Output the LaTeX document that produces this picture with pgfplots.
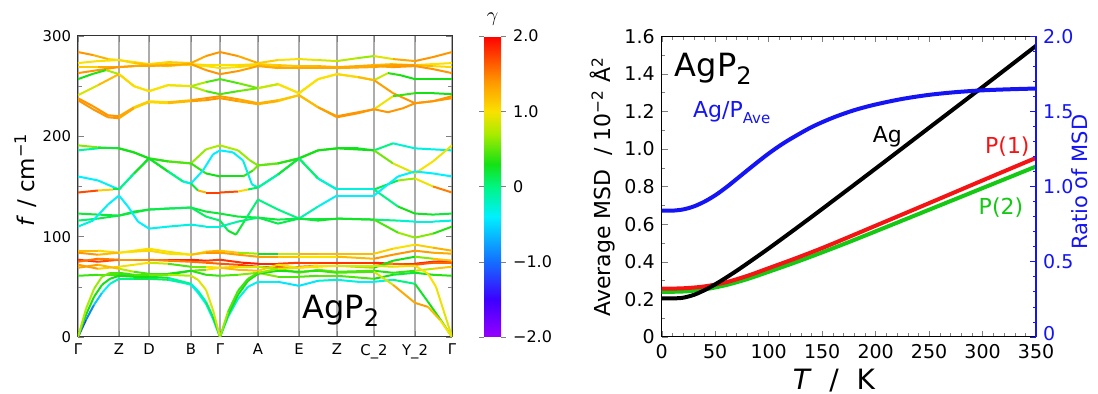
\documentclass[border=0pt]{standalone}
\usepackage{fontspec}
\setmainfont{DejaVu Sans}
\usepackage{pgfplots}
\pgfplotsset{compat=1.18}
\definecolor{cblue}{RGB}{20,20,245}
\definecolor{cred}{RGB}{245,20,20}
\definecolor{cgreen}{RGB}{20,200,20}
\pgfplotsset{
  colormap={gam}{rgb255(0cm)=(150,0,255) rgb255(5cm)=(60,0,255) rgb255(10cm)=(20,110,255) rgb255(16cm)=(0,240,255) rgb255(20cm)=(0,245,130) rgb255(23cm)=(20,225,20) rgb255(27cm)=(170,235,0) rgb255(30cm)=(250,225,0) rgb255(34cm)=(255,150,0) rgb255(40cm)=(255,0,0)},
  band/.style={mesh, point meta=explicit, line width=1pt},
}
\begin{document}
\begin{tikzpicture}
\useasboundingbox (0,0) rectangle (549pt,197pt);
% ---------------- left panel: phonon bands ----------------
\begin{axis}[
  at={(39pt,28.5pt)}, anchor=south west,
  width=187pt, height=150.5pt, scale only axis,
  xmin=0, xmax=374, ymin=0, ymax=300,
  colormap name=gam, point meta min=-2, point meta max=2,
  xtick={0,41,71,113,142,180,221,259,296,337,374},
  xticklabels={Γ,Z,D,B,Γ,A,E,Z,C\_2,Y\_2,Γ},
  xmajorgrids, major grid style={gray!65, line width=0.6pt},
  ytick={0,100,200,300}, yticklabels={0,100,200,300},
  minor ytick={50,150,250},
  tick align=inside, major tick length=3pt, minor tick length=2pt,
  axis line style={line width=0.5pt, black!80},
  ticklabel style={font=\fontsize{7.4}{8}\selectfont},
  ylabel={\textit{f} / cm\textsuperscript{−1}},
  ylabel style={at={(axis description cs:-0.14,0.523)}, anchor=center, font=\fontsize{11.5}{12}\selectfont},
  colorbar,
  colorbar style={
    at={(parent axis.north east)}, anchor=north west, xshift=7.5pt,
    width=8.5pt,
    ytick={-2,-1,0,1,2}, yticklabels={−2.0,−1.0,0,1.0,2.0},
    yticklabel style={font=\fontsize{8}{9}\selectfont},
    axis line style={draw=none},
    tick align=outside, major tick length=2.5pt,
    title={$\gamma$}, title style={font=\fontsize{10}{10}\selectfont, yshift=-4pt},
  },
]
% high group
\addplot[band] coordinates {(0,284)[1.4] (15,281)[1.4] (30,277)[1.1] (41,276)[1.0] (56,274)[1.0] (71,272)[1.1] (90,274)[1.0] (113,273)[1.2] (128,280)[1.4] (142,284)[1.4] (160,280)[1.4] (180,273)[1.2] (200,276)[1.0] (221,277)[1.0] (240,276)[0.9] (259,275)[0.8] (280,278)[0.7] (296,280)[0.6] (315,277)[1.2] (337,275)[1.4] (355,279)[1.4] (374,284)[1.4]};
\addplot[band] coordinates {(0,273)[1.0] (20,275)[1.0] (41,276)[1.0] (56,273)[1.1] (71,271)[1.2] (90,270)[1.2] (113,272)[1.1] (128,271)[1.0] (142,271)[1.0] (160,271)[1.0] (180,272)[1.1] (200,271)[1.1] (221,270)[1.2] (240,270)[1.2] (259,269)[1.3] (280,270)[1.3] (296,271)[1.3] (315,272)[1.1] (337,271)[1.0] (355,272)[1.0] (374,273)[1.0]};
\addplot[band] coordinates {(0,269)[1.0] (20,269)[1.2] (41,269)[1.4] (56,270)[1.3] (71,271)[1.2] (90,272)[1.1] (113,271)[1.0] (128,270)[1.0] (142,268)[1.0] (160,269)[1.0] (180,271)[1.1] (200,269)[1.2] (221,268)[1.3] (259,268)[1.3] (296,269)[1.3] (315,271)[1.4] (337,271)[1.3] (355,270)[1.1] (374,269)[1.0]};
\addplot[band] coordinates {(0,263)[1.4] (20,266)[1.4] (41,269)[1.4] (56,270)[1.3] (71,270)[1.3] (90,271)[1.3] (113,272)[1.3] (128,266)[1.4] (142,262)[1.4] (160,265)[1.4] (180,270)[1.3] (200,268)[1.3] (221,268)[1.3] (259,268)[1.3] (296,270)[1.3] (315,269)[1.4] (337,270)[1.4] (355,267)[1.4] (374,263)[1.4]};
\addplot[band] coordinates {(0,257)[0.3] (14,262)[0.3] (28,266)[0.4] (41,262)[1.0] (56,250)[1.0] (71,245)[1.0] (90,251)[1.0] (113,250)[0.9] (128,254)[0.5] (142,257)[0.4] (160,253)[0.5] (180,248)[0.6] (200,252)[1.0] (221,243)[1.0] (240,257)[1.0] (259,262)[1.0] (280,259)[1.1] (296,256)[1.2] (310,263)[0.4] (322,261)[0.3] (337,257)[0.3] (374,257)[0.3]};
\addplot[band] coordinates {(0,241)[0.4] (20,251)[1.3] (41,262)[1.1] (56,250)[1.0] (71,245)[1.0] (90,251)[1.0] (113,250)[0.9] (128,245)[0.5] (142,242)[0.4] (160,245)[0.5] (180,248)[0.6] (200,252)[1.0] (221,243)[1.0] (240,257)[1.0] (259,262)[1.0] (280,259)[1.1] (296,256)[1.3] (315,243)[1.4] (337,233)[1.4] (355,235)[1.4] (374,240)[1.4]};
\addplot[band] coordinates {(0,238)[1.4] (15,230)[1.4] (30,221)[1.4] (41,220)[1.4] (56,229)[1.2] (71,235)[1.0] (90,234)[1.1] (113,236)[1.3] (128,238)[1.4] (142,240)[1.4] (160,237)[1.3] (180,233)[1.3] (200,236)[1.2] (221,241)[1.1] (240,229)[1.3] (259,220)[1.4] (280,224)[1.4] (296,227)[1.4] (315,240)[0.5] (337,243)[0.3] (355,243)[0.3] (374,242)[0.3]};
\addplot[band] coordinates {(0,236)[1.4] (15,227)[1.4] (30,219)[1.4] (41,218)[1.4] (56,228)[1.2] (71,234)[1.0] (90,233)[1.1] (113,235)[1.3] (128,236)[1.4] (142,238)[1.4] (160,235)[1.3] (180,232)[1.3] (200,235)[1.2] (221,241)[1.1] (240,229)[1.3] (259,219)[1.4] (280,223)[1.4] (296,227)[1.4] (310,224)[1.4] (325,228)[1.4] (337,233)[1.4] (355,235)[1.4] (374,238)[1.4]};
% middle group
\addplot[band] coordinates {(0,191)[0.7] (20,189)[0.5] (41,188)[0.3] (56,184)[0.3] (71,178)[0.3] (90,175)[0.4] (113,173)[0.6] (128,187)[0.7] (142,191)[0.7] (160,186)[0.7] (172,176)[0.6] (180,171)[0.6] (200,173)[0.4] (221,178)[0.3] (240,186)[0.3] (259,188)[0.3] (280,188)[0.2] (296,186)[0.2] (315,193)[-0.2] (337,188)[-0.3] (355,187)[-0.3] (374,186)[-0.3]};
\addplot[band] coordinates {(0,186)[-0.3] (20,188)[0.1] (41,188)[0.3] (56,184)[0.3] (71,178)[0.3] (90,175)[0.4] (113,173)[0.5] (128,163)[0.3] (142,160)[0.3] (165,160)[0.3] (175,166)[0.5] (180,171)[0.6] (200,173)[0.4] (221,178)[0.3] (240,186)[0.3] (259,188)[0.3] (296,186)[0.3] (315,173)[0.8] (337,163)[1.0] (355,175)[1.0] (374,191)[0.9]};
\addplot[band] coordinates {(0,160)[-0.4] (20,156)[-0.4] (41,147)[-0.3] (56,163)[0.2] (71,178)[0.3] (90,165)[0.2] (105,155)[-0.2] (113,153)[-0.4] (125,166)[-0.4] (135,182)[-0.4] (142,186)[-0.4] (155,184)[-0.4] (165,176)[-0.3] (174,152)[-0.3] (180,149)[-0.3] (200,162)[0.1] (221,178)[0.3] (240,158)[-0.2] (259,147)[-0.3] (296,147)[-0.3] (320,156)[0.6] (337,158)[0.7] (355,150)[1.2] (374,144)[1.8]};
\addplot[band] coordinates {(0,144)[1.8] (20,146)[1.6] (35,147)[0.6] (41,147)[-0.3] (56,163)[0.2] (71,178)[0.3] (90,165)[0.2] (105,155)[-0.2] (113,153)[-0.4] (120,146)[0.8] (128,144)[1.7] (142,144)[1.8] (160,145)[1.6] (170,147)[0.5] (180,149)[-0.3] (200,162)[0.1] (221,178)[0.3] (240,158)[-0.2] (259,147)[-0.3] (296,147)[-0.3] (320,130)[0.3] (337,123)[0.3] (355,122)[0.2] (374,123)[0.2]};
\addplot[band] coordinates {(0,123)[0.2] (20,122)[0.2] (41,121)[0.2] (56,124)[0.2] (71,127)[0.2] (90,128)[0.2] (113,129)[0.2] (128,125)[0.2] (142,123)[0.2] (160,120)[0.2] (180,119)[0.2] (200,117)[0.2] (221,118)[0.1] (240,118)[0.2] (259,118)[0.2] (296,117)[0.2] (320,116)[-0.2] (337,115)[-0.3] (355,115)[-0.3] (374,116)[-0.3]};
\addplot[band] coordinates {(0,116)[0] (20,118)[0.1] (41,121)[0.2] (56,125)[0.2] (71,127)[0.2] (90,128)[0.1] (113,129)[0.1] (128,120)[0.1] (142,116)[0] (150,106)[0.2] (158,102)[0.3] (168,118)[0.1] (180,137)[0] (200,127)[0] (221,118)[0] (240,130)[-0.3] (259,141)[-0.4] (296,141)[-0.4] (320,160)[-0.4] (337,165)[-0.4] (355,163)[-0.4] (374,160)[-0.4]};
\addplot[band] coordinates {(0,110)[-0.3] (15,116)[-0.3] (30,132)[-0.4] (41,141)[-0.4] (50,130)[-0.4] (60,115)[-0.4] (71,108)[-0.4] (90,110)[-0.3] (113,112)[-0.3] (128,110)[-0.3] (142,110)[-0.3] (160,115)[0] (180,119)[0.1] (200,113)[0.2] (221,118)[0.1] (240,116)[0.3] (259,118)[0.2] (296,117)[0.3] (320,104)[0.6] (337,99)[0.7] (355,103)[0.5] (374,110)[0.2]};
% low optical group
\addplot[band] coordinates {(0,86)[1.3] (20,86)[1.1] (41,84)[1.0] (56,86)[1.0] (71,88)[1.0] (90,85)[1.0] (113,82)[0.9] (128,85)[1.2] (142,86)[1.3] (160,84)[1.0] (180,83)[0.3] (200,83)[0.3] (221,83)[1.3] (240,83)[1.2] (259,83)[1.2] (296,83)[1.2] (315,88)[1.0] (337,92)[1.0] (355,89)[1.2] (374,86)[1.3]};
\addplot[band] coordinates {(0,84)[1.4] (20,82)[1.4] (41,84)[1.0] (56,85)[1.0] (71,86)[1.1] (90,83)[1.0] (113,82)[1.0] (128,84)[1.4] (142,84)[1.4] (160,82)[1.3] (180,80)[1.4] (200,80)[1.3] (221,80)[1.0] (240,80)[1.0] (259,80)[1.0] (296,78)[1.4] (315,82)[1.4] (337,86)[1.4] (355,84)[1.3] (374,83)[1.3]};
\addplot[band] coordinates {(0,77)[1.8] (20,75)[1.8] (41,77)[1.6] (56,77)[1.5] (71,77)[1.5] (90,77)[1.8] (113,77)[1.9] (128,76)[1.8] (142,77)[1.7] (165,74)[1.9] (180,73)[1.9] (200,73)[1.8] (221,74)[1.7] (240,74)[1.8] (259,74)[1.8] (296,74)[1.8] (315,73)[1.9] (337,73)[1.9] (355,75)[1.8] (374,76)[1.8]};
\addplot[band] coordinates {(0,75)[1.5] (20,78)[1.6] (41,77)[1.4] (56,77)[1.4] (71,77)[1.5] (90,76)[1.5] (113,75)[1.5] (128,74)[1.6] (142,73)[1.6] (160,72)[1.7] (180,70)[1.8] (200,70)[1.7] (221,70)[1.6] (240,71)[1.5] (259,71)[1.5] (296,71)[1.3] (315,73)[1.6] (337,72)[1.7] (355,74)[1.6] (374,74)[1.6]};
\addplot[band] coordinates {(0,72)[1.4] (20,68)[1.3] (41,70)[0.9] (56,72)[1.0] (71,74)[1.0] (90,73)[0.6] (113,70)[0.3] (128,70)[0.8] (142,69)[1.2] (160,67)[1.2] (180,66)[1.2] (200,72)[1.0] (221,69)[1.0] (240,71)[1.0] (259,71)[1.0] (296,69)[0.3] (315,76)[0.3] (337,80)[0.3] (355,78)[0.9] (374,76)[1.4]};
\addplot[band] coordinates {(0,69)[1.3] (20,72)[1.4] (41,68)[1.0] (56,65)[0.5] (71,63)[0.4] (90,63)[0.4] (113,66)[0.3] (128,67)[0.8] (142,69)[1.2] (160,70)[1.0] (180,70)[0.8] (200,68)[0.6] (221,64)[0.5] (240,67)[0.6] (259,65)[0.5] (296,66)[0.4] (315,64)[0.3] (337,66)[0.5] (355,68)[1.0] (374,70)[1.3]};
\addplot[band] coordinates {(0,61)[0.4] (20,62)[0.4] (41,62)[0.5] (56,61)[0.3] (71,61)[0.3] (90,62)[0.3] (113,66)[0.3] (128,62)[0.4] (142,61)[0.4] (160,62)[0.5] (180,64)[0.7] (200,60)[0.5] (221,60)[0.4] (240,61)[0.5] (259,61)[0.5] (296,58)[0.4] (315,62)[0.2] (337,64)[0.2] (355,62)[0.3] (374,61)[0.4]};
% acoustic
\addplot[band] coordinates {(0,0)[-1.3] (8,17)[-1.1] (16,32)[-0.7] (24,44)[-0.5] (32,53)[-0.3] (41,58)[-0.1] (56,58)[0.1] (71,58)[0.2] (90,57)[0] (105,54)[-0.3] (113,52)[-0.4] (120,44)[-0.4] (128,33)[-0.4] (135,18)[-0.4] (142,0)[-0.4] (150,20)[-0.3] (160,38)[-0.3] (170,50)[-0.3] (180,55)[-0.4] (200,55)[-0.3] (221,51)[-0.6] (240,56)[-0.3] (259,57)[-0.2] (280,55)[-0.4] (296,55)[-0.4] (315,57)[-0.2] (337,53)[0.2] (350,35)[0.3] (362,18)[0.3] (374,0)[0.3]};
\addplot[band] coordinates {(0,0)[0.3] (8,22)[0.3] (16,40)[0.3] (24,52)[0.3] (32,58)[0.3] (41,61)[0.3] (56,60)[0.3] (71,60)[0.3] (90,59)[0.2] (113,53)[-0.3] (120,46)[-0.2] (128,35)[0] (135,20)[0.2] (142,0)[0.3] (150,22)[0.3] (160,42)[0.3] (170,56)[0.3] (180,63)[0.3] (200,66)[0.3] (221,65)[0.3] (240,66)[0.4] (259,64)[0.4] (296,65)[0.5] (315,52)[1.2] (337,34)[1.4] (350,30)[1.3] (362,17)[1.1] (374,0)[0.9]};
\addplot[band] coordinates {(0,0)[0.7] (8,28)[0.7] (16,48)[0.7] (24,60)[0.6] (32,64)[0.5] (41,64)[0.4] (56,62)[0.4] (71,62)[0.5] (90,62)[0.6] (113,61)[0.8] (120,57)[0.9] (128,47)[0.9] (135,27)[0.9] (142,0)[0.8] (150,25)[0.5] (160,46)[0.4] (170,58)[0.4] (180,64)[0.5] (200,68)[0.8] (221,69)[1.0] (240,70)[1.0] (259,71)[1.0] (296,71)[0.8] (315,70)[0.9] (337,71)[1.0] (350,63)[1.0] (358,50)[1.0] (366,25)[0.9] (374,0)[0.9]};
\node[anchor=base west, font=\fontsize{16}{16}\selectfont, inner sep=0pt] at (axis cs:224,18) {AgP\raisebox{-0.45ex}{\fontsize{12}{12}\selectfont 2}};
\end{axis}
% ---------------- right panel: MSD ----------------
\begin{axis}[
  at={(330.85pt,28.5pt)}, anchor=south west,
  width=187.2pt, height=150.4pt, scale only axis,
  xmin=0, xmax=350, ymin=0, ymax=1.6,
  axis y line*=left,
  xtick={0,50,...,350}, minor x tick num=4,
  ytick={0,0.2,0.4,0.6,0.8,1.0,1.2,1.4,1.6},
  yticklabels={0,0.2,0.4,0.6,0.8,1.0,1.2,1.4,1.6},
  minor y tick num=1,
  tick align=inside, major tick length=3pt, minor tick length=1.8pt,
  /pgf/number format/assume math mode=true,
  axis line style={line width=0.5pt},
  ticklabel style={font=\fontsize{9.5}{10}\selectfont},
  xlabel={\textit{T}\ \ /\ \ K},
  xlabel style={at={(axis description cs:0.46,0)}, yshift=-22pt, anchor=center, font=\fontsize{14}{14}\selectfont},
  ylabel={Average MSD \ /\ 10\textsuperscript{−2} Å\textsuperscript{2}},
  ylabel style={at={(axis description cs:-0.157,0.5)}, anchor=center, font=\fontsize{11}{12}\selectfont},
]
\addplot[cgreen, line width=2pt, smooth] coordinates {(0,0.240) (20,0.242) (40,0.253) (60,0.276) (80,0.308) (100,0.347) (125,0.397) (150,0.450) (175,0.505) (200,0.562) (250,0.677) (300,0.792) (350,0.907)};
\addplot[cred, line width=2pt, smooth] coordinates {(0,0.257) (20,0.259) (40,0.269) (60,0.291) (80,0.325) (100,0.366) (125,0.418) (150,0.473) (175,0.532) (200,0.592) (250,0.712) (300,0.833) (350,0.953)};
\addplot[black, line width=2pt, smooth] coordinates {(0,0.205) (10,0.205) (20,0.209) (30,0.224) (40,0.249) (50,0.280) (60,0.315) (70,0.352) (80,0.391) (100,0.471) (125,0.575) (150,0.681) (200,0.896) (250,1.113) (300,1.330) (350,1.549)};
\node[anchor=base west, font=\fontsize{16}{16}\selectfont, inner sep=0pt] at (axis cs:12,1.385) {AgP\raisebox{-0.45ex}{\fontsize{12}{12}\selectfont 2}};
\node[anchor=base west, font=\fontsize{11}{11}\selectfont, inner sep=0pt, text=cblue] at (axis cs:29,1.166) {Ag/P\raisebox{-0.5ex}{\fontsize{7.5}{8}\selectfont Ave}};
\node[anchor=base west, font=\fontsize{11}{11}\selectfont, inner sep=0pt] at (axis cs:197,1.033) {Ag};
\node[anchor=base west, font=\fontsize{11}{11}\selectfont, inner sep=0pt, text=cred] at (axis cs:302,0.978) {P(1)};
\node[anchor=base west, font=\fontsize{11}{11}\selectfont, inner sep=0pt, text=cgreen] at (axis cs:296,0.649) {P(2)};
\end{axis}
\begin{axis}[
  at={(330.85pt,28.5pt)}, anchor=south west,
  width=187.2pt, height=150.4pt, scale only axis,
  xmin=0, xmax=350, ymin=0, ymax=2,
  axis x line=none, axis y line*=right,
  ytick={0,0.5,1,1.5,2}, yticklabels={\raisebox{4pt}{0},0.5,1.0,1.5,2.0},
  minor y tick num=4,
  tick align=inside, major tick length=3pt, minor tick length=1.8pt,
  every tick/.style={cblue},
  y axis line style={cblue, line width=1pt},
  yticklabel style={text=cblue, font=\fontsize{9.5}{10}\selectfont},
  ylabel={Ratio of MSD},
  ylabel style={at={(axis description cs:1.1175,0.514)}, anchor=center, text=cblue, font=\fontsize{10.5}{11}\selectfont},
]
\addplot[cblue, line width=2pt, smooth] coordinates {(0,0.84) (10,0.84) (20,0.848) (30,0.868) (40,0.9) (50,0.942) (60,0.993) (70,1.05) (80,1.108) (90,1.165) (100,1.22) (110,1.27) (120,1.315) (140,1.395) (160,1.458) (180,1.508) (200,1.546) (225,1.583) (250,1.61) (275,1.628) (300,1.64) (325,1.647) (350,1.652)};
\end{axis}
\end{tikzpicture}
\end{document}
